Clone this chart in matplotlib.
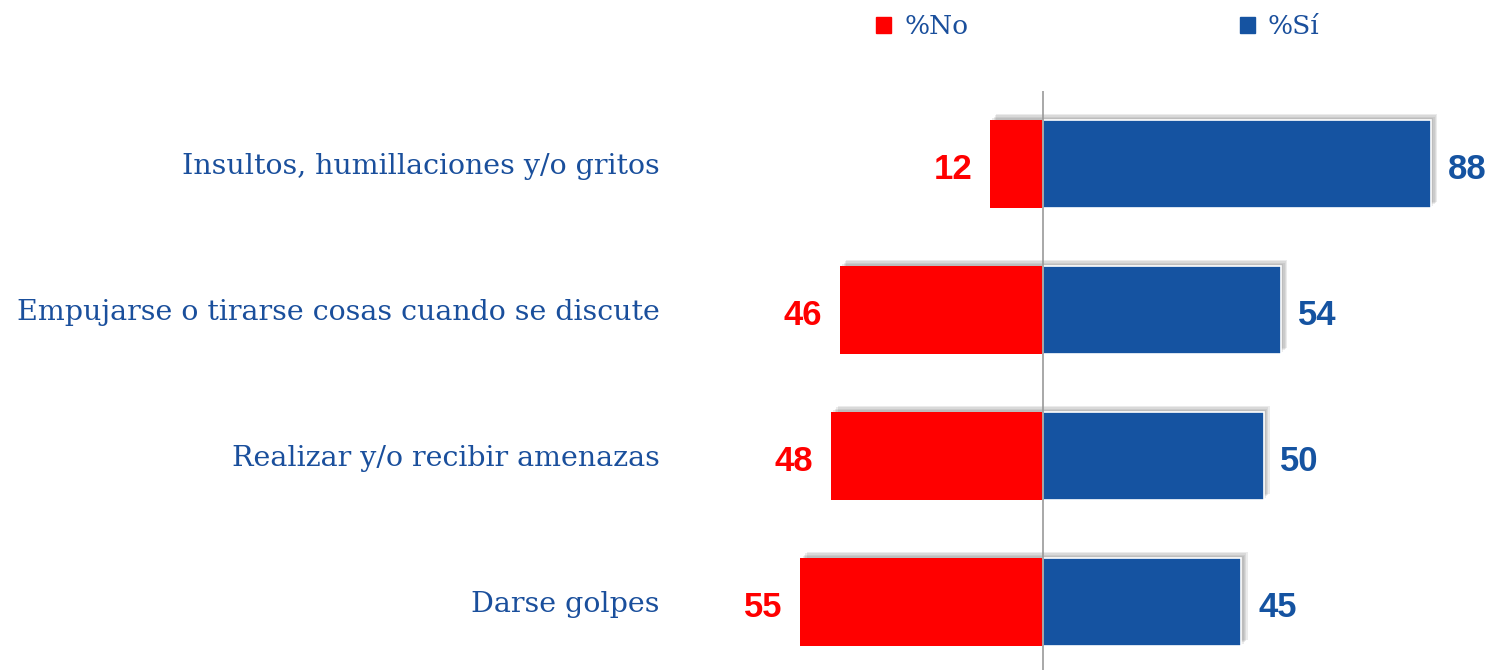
import matplotlib.pyplot as plt
import matplotlib.patheffects as pe
from matplotlib.patches import Patch

categories = ['Insultos, humillaciones y/o gritos',
              'Empujarse o tirarse cosas cuando se discute',
              'Realizar y/o recibir amenazas',
              'Darse golpes']
pct_no = [12, 46, 48, 55]
pct_si = [88, 54, 50, 45]

RED = '#FF0000'
BLUE = '#1553A1'
TEXT_BLUE = '#1A4F9C'

plt.rcParams['font.family'] = ['DejaVu Serif']

fig = plt.figure(figsize=(15.03, 6.70), dpi=100)
# axes: x from 700px to right edge, y from 91px to bottom
ax = fig.add_axes([700 / 1503, 0, 1 - 700 / 1503, 1 - 91 / 670])

y = list(range(len(categories)))
# soft drop shadow, faked with a few stacked offsets
shadow = [pe.SimplePatchShadow(offset=(d, d), shadow_rgbFace='#666666', alpha=0.13)
          for d in (4.5, 3.5, 2.5, 1.5)] + [pe.Normal()]
bars_no = ax.barh(y, [-v for v in pct_no], height=0.6, color=RED, path_effects=shadow)
bars_si = ax.barh(y, pct_si, height=0.6, color=BLUE, edgecolor='white', linewidth=1.2,
                  path_effects=shadow)

num_font = dict(fontsize=25, fontweight='bold', family='Liberation Sans')
for yi, v in zip(y, pct_no):
    ax.annotate(str(v), (-v, yi), xytext=(-13, -4), textcoords='offset points',
                ha='right', va='center', color=RED, **num_font)
for yi, v in zip(y, pct_si):
    ax.annotate(str(v), (v, yi), xytext=(12, -4), textcoords='offset points',
                ha='left', va='center', color=BLUE, **num_font)

ax.axvline(0, color='#999999', linewidth=1.2, zorder=5)

px = 4.41
ax.set_xlim((700 - 1043) / px, (1503 - 1043) / px)
ax.set_ylim(-0.5 + 579 / 146, -0.5)
ax.set_yticks(y)
ax.set_yticklabels(categories, fontsize=20.5, color=TEXT_BLUE)
ax.tick_params(axis='y', length=0, pad=29)
ax.set_xticks([])
for s in ax.spines.values():
    s.set_visible(False)

handles = [Patch(color=RED, label='%No'), Patch(color=BLUE, label='%Sí')]
leg = fig.legend(handles=handles, loc='center', bbox_to_anchor=(1098 / 1503, 1 - 27 / 670),
                 ncol=2, frameon=False, fontsize=19, handlelength=0.55, handleheight=0.55,
                 handletextpad=0.5, columnspacing=10.3)
for t in leg.get_texts():
    t.set_color(TEXT_BLUE)

fig.savefig('out.png', dpi=100)
